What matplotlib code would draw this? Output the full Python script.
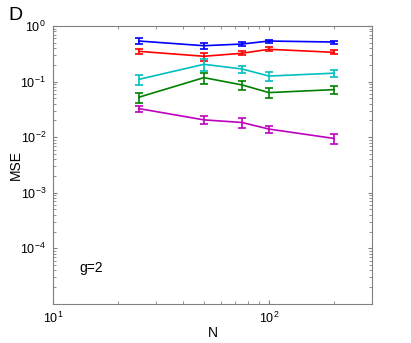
import matplotlib
matplotlib.use("Agg")
import matplotlib.pyplot as plt

plt.rcParams['font.family'] = ['Liberation Sans', 'DejaVu Sans']

N = [25, 50, 75, 100, 200]

blue_mse = [0.538, 0.443, 0.475, 0.538, 0.516]
blue_err = [0.060, 0.060, 0.034, 0.033, 0.032]
red_mse = [0.351, 0.286, 0.324, 0.382, 0.337]
red_err = [0.039, 0.047, 0.027, 0.032, 0.028]
cyan_mse = [0.110, 0.205, 0.169, 0.126, 0.142]
cyan_err = [0.023, 0.051, 0.025, 0.023, 0.019]
green_mse = [0.0525, 0.118, 0.0873, 0.0635, 0.0718]
green_err = [0.011, 0.028, 0.016, 0.012, 0.013]
magenta_mse = [0.0327, 0.0205, 0.0184, 0.0140, 0.0095]
magenta_err = [0.0037, 0.0034, 0.0038, 0.0019, 0.0020]

series = [
    (blue_mse, blue_err, (0, 0, 1)),
    (red_mse, red_err, (1, 0, 0)),
    (cyan_mse, cyan_err, (0, 0.75, 0.75)),
    (green_mse, green_err, (0, 0.5, 0)),
    (magenta_mse, magenta_err, (0.75, 0, 0.75)),
]

fig = plt.figure(figsize=(4.11, 3.43), dpi=100)
ax = fig.add_axes([0.129, 0.114, 0.776, 0.810])

for mse, err, col in series:
    ax.errorbar(N, mse, yerr=err, color=col, lw=1.2, elinewidth=1.2,
                capsize=3, capthick=1.2)

ax.set_xscale('log')
ax.set_yscale('log')
ax.set_xlim(10, 300)
ax.set_ylim(1e-5, 1)
ax.set_yticks([1e-4, 1e-3, 1e-2, 1e-1, 1])

for s in ax.spines.values():
    s.set_color('0.5')
    s.set_linewidth(0.8)
ax.tick_params(which='both', direction='in', top=True, right=True,
               colors='0.5', labelcolor='black', labelsize=9)
ax.tick_params(which='major', length=3, pad=5)
ax.tick_params(which='minor', length=2)

ax.set_xlabel('N', fontsize=10)
ax.set_ylabel('MSE', fontsize=10)
ax.xaxis.set_label_coords(0.5, -0.08)
ax.yaxis.set_label_coords(-0.095, 0.5)
ax.text(13.3, 4.4e-5, 'g=2', fontsize=10, va='center', ha='left')
fig.text(0.02, 0.955, 'D', fontsize=14, va='center', ha='left')

fig.savefig('out.png', dpi=100)
